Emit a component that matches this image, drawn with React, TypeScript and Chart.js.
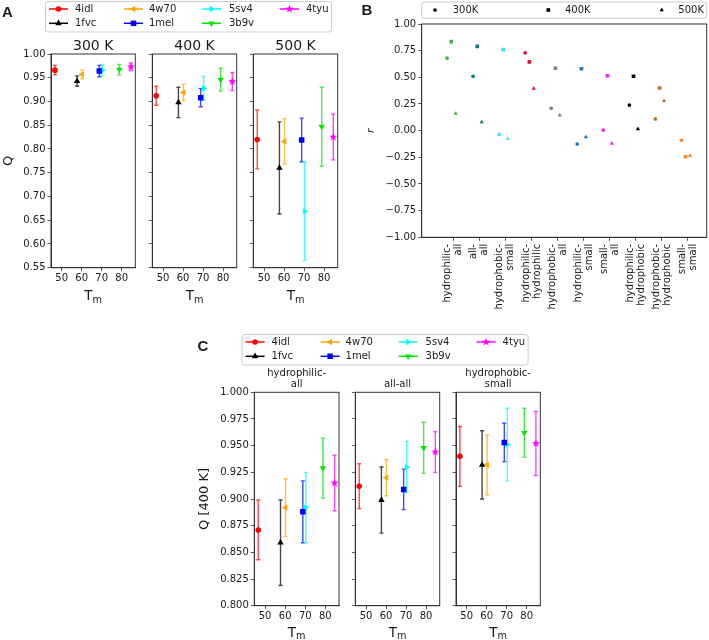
import React, { useEffect, useRef } from 'react';
import { Chart, registerables } from 'chart.js';

Chart.register(...registerables);

const W = 709;
const H = 640;
const FONT = "'DejaVu Sans', 'Liberation Sans', sans-serif";
const BOLD_FONT = "bold 15px 'Liberation Sans', Arial, sans-serif";
const TEXT = '#1a1a1a';
const SPINE = '#333333';

// ---------------- Panels A and C data ----------------
const proteins = ['4idl', '1fvc', '4w70', '1mel', '5sv4', '3b9v', '4tyu'];
const proteinColors = ['#ff0000', '#000000', '#ffa500', '#0000ff', '#00ffff', '#00e600', '#ff00ff'];
const proteinMarkers = ['circle', 'triUp', 'triLeft', 'square', 'triRight', 'triDown', 'star'];
const meltingTemps = [46.6, 57.7, 60.2, 68.8, 70.3, 78.8, 84.6];
const tmTicks = [50, 60, 70, 80];

const temperatureTitles = ['300 K', '400 K', '500 K'];
const q300 = [0.966, 0.943, 0.957, 0.964, 0.966, 0.967, 0.973];
const q300Err = [0.010, 0.011, 0.009, 0.012, 0.012, 0.011, 0.008];
const q400 = [0.912, 0.898, 0.919, 0.908, 0.928, 0.946, 0.942];
const q400Err = [0.020, 0.032, 0.017, 0.019, 0.025, 0.024, 0.019];
const q500 = [0.820, 0.760, 0.816, 0.819, 0.669, 0.847, 0.825];
const q500Err = [0.062, 0.097, 0.048, 0.046, 0.104, 0.083, 0.048];
const qTicksA = [0.55, 0.6, 0.65, 0.7, 0.75, 0.8, 0.85, 0.9, 0.95, 1.0];

const contactTitlesC = [['hydrophilic-', 'all'], ['all-all'], ['hydrophobic-', 'small']];
const qHydrophilicAll = [0.871, 0.859, 0.892, 0.888, 0.892, 0.929, 0.915];
const qHydrophilicAllErr = [0.028, 0.040, 0.027, 0.029, 0.033, 0.028, 0.026];
const qAllAll = [0.912, 0.899, 0.920, 0.909, 0.930, 0.948, 0.944];
const qAllAllErr = [0.021, 0.031, 0.017, 0.019, 0.024, 0.024, 0.019];
const qHydrophobicSmall = [0.940, 0.932, 0.932, 0.953, 0.951, 0.962, 0.952];
const qHydrophobicSmallErr = [0.028, 0.032, 0.028, 0.018, 0.034, 0.023, 0.030];
const qTicksC = [0.8, 0.825, 0.85, 0.875, 0.9, 0.925, 0.95, 0.975, 1.0];

// ---------------- Panel B data ----------------
const contactTypes = [
  ['hydrophilic-', 'all'],
  ['all-', 'all'],
  ['hydrophobic-', 'small'],
  ['hydrophilic-', 'hydrophilic'],
  ['hydrophobic-', 'all'],
  ['hydrophilic-', 'small'],
  ['small-', 'all'],
  ['hydrophilic-', 'hydrophobic'],
  ['hydrophobic-', 'hydrophobic'],
  ['small-', 'small'],
];
const contactColors = ['#4aac4a', '#137878', '#40e0e6', '#dc143c', '#808080', '#1f77b4', '#e22fe2', '#000000', '#a8733a', '#f28d3c'];
const bTempLabels = ['300K', '400K', '500K'];
const bTempMarkers = ['circle', 'square', 'triUp'];
const r300 = [0.68, 0.51, -0.035, 0.73, 0.21, -0.125, 0.005, 0.24, 0.11, -0.09];
const r400 = [0.835, 0.79, 0.76, 0.645, 0.585, 0.58, 0.515, 0.51, 0.40, -0.245];
const r500 = [0.16, 0.08, -0.075, 0.395, 0.145, -0.06, -0.12, 0.015, 0.28, -0.235];
const rTicks = [-1, -0.75, -0.5, -0.25, 0, 0.25, 0.5, 0.75, 1];

// dodge offsets of the three temperatures within each category (layout, not data)
const B_DODGE = [-0.24, -0.08, 0.09];

// ---------------- helpers ----------------
function markerSize(kind: string, s: number) {
  if (kind === 'circle') return 2.8 * s;
  if (kind === 'square') return 3.9 * s;
  if (kind === 'star') return 4.3 * s;
  return 3.7 * s;
}
const triRot: Record<string, number> = { triUp: 0, triRight: 90, triDown: 180, triLeft: -90 };

function starPath(ctx: CanvasRenderingContext2D, cx: number, cy: number, R: number) {
  const r = R * 0.42;
  ctx.beginPath();
  for (let k = 0; k < 10; k++) {
    const a = -Math.PI / 2 + (k * Math.PI) / 5;
    const rr = k % 2 === 0 ? R : r;
    ctx.lineTo(cx + rr * Math.cos(a), cy + rr * Math.sin(a));
  }
  ctx.closePath();
}

function makeStarImage(color: string, R: number) {
  const c = document.createElement('canvas');
  const s = Math.ceil(R * 2 + 2);
  c.width = s;
  c.height = s;
  const g = c.getContext('2d')!;
  starPath(g, s / 2, s / 2, R);
  g.fillStyle = color;
  g.fill();
  return c;
}

function drawMarker(ctx: CanvasRenderingContext2D, kind: string, x: number, y: number, color: string, s = 1) {
  ctx.save();
  ctx.fillStyle = color;
  const R = markerSize(kind, s);
  if (kind === 'circle') {
    ctx.beginPath();
    ctx.arc(x, y, R, 0, Math.PI * 2);
  } else if (kind === 'square') {
    const h = R * Math.SQRT1_2;
    ctx.beginPath();
    ctx.rect(x - h, y - h, 2 * h, 2 * h);
  } else if (kind === 'star') {
    starPath(ctx, x, y, R);
  } else {
    const rot = (triRot[kind] * Math.PI) / 180;
    ctx.beginPath();
    for (let k = 0; k < 3; k++) {
      const a = rot + (k * 2 * Math.PI) / 3;
      ctx.lineTo(x + Math.sin(a) * R, y - Math.cos(a) * R);
    }
    ctx.closePath();
  }
  ctx.fill();
  ctx.restore();
}

function pointStyleFor(kind: string, color: string, s = 1) {
  const R = markerSize(kind, s);
  if (kind === 'circle') return { pointStyle: 'circle', pointRadius: R, pointRotation: 0 };
  if (kind === 'square') return { pointStyle: 'rect', pointRadius: R, pointRotation: 0 };
  if (kind === 'star') return { pointStyle: makeStarImage(color, R), pointRadius: R, pointRotation: 0 };
  return { pointStyle: 'triangle', pointRadius: R, pointRotation: triRot[kind] };
}

function roundRect(ctx: CanvasRenderingContext2D, x: number, y: number, w: number, h: number, r: number) {
  ctx.beginPath();
  ctx.moveTo(x + r, y);
  ctx.lineTo(x + w - r, y);
  ctx.arcTo(x + w, y, x + w, y + r, r);
  ctx.lineTo(x + w, y + h - r);
  ctx.arcTo(x + w, y + h, x + w - r, y + h, r);
  ctx.lineTo(x + r, y + h);
  ctx.arcTo(x, y + h, x, y + h - r, r);
  ctx.lineTo(x, y + r);
  ctx.arcTo(x, y, x + r, y, r);
  ctx.closePath();
}

function drawLegendBox(ctx: CanvasRenderingContext2D, x: number, y: number, w: number, h: number) {
  roundRect(ctx, x, y, w, h, 2.5);
  ctx.fillStyle = 'rgba(255,255,255,0.8)';
  ctx.fill();
  ctx.strokeStyle = '#cccccc';
  ctx.lineWidth = 1;
  ctx.stroke();
}

function drawProteinLegend(ctx: CanvasRenderingContext2D, ox: number, oy: number) {
  ctx.save();
  drawLegendBox(ctx, ox + 45.5, oy + 1.5, 286, 30.5);
  const colLine = [49, 124, 202, 280];
  const colText = [75, 149, 229, 306];
  const rowY = [9, 23.3];
  ctx.font = `10px ${FONT}`;
  ctx.textAlign = 'left';
  ctx.textBaseline = 'middle';
  proteins.forEach((name, i) => {
    const c = Math.floor(i / 2);
    const r = i % 2;
    const y = oy + rowY[r];
    const x0 = ox + colLine[c];
    ctx.strokeStyle = proteinColors[i];
    ctx.lineWidth = 1.5;
    ctx.beginPath();
    ctx.moveTo(x0, y);
    ctx.lineTo(x0 + 19, y);
    ctx.stroke();
    drawMarker(ctx, proteinMarkers[i], x0 + 9.5, y, proteinColors[i]);
    ctx.fillStyle = TEXT;
    ctx.fillText(name, ox + colText[c], y + 0.5);
  });
  ctx.restore();
}

function drawTm(ctx: CanvasRenderingContext2D, cx: number, baseline: number, size: number) {
  ctx.save();
  ctx.fillStyle = TEXT;
  ctx.textAlign = 'left';
  ctx.textBaseline = 'alphabetic';
  const sub = size * 0.72;
  ctx.font = `${size}px ${FONT}`;
  const wT = ctx.measureText('T').width;
  ctx.font = `${sub}px ${FONT}`;
  const wm = ctx.measureText('m').width;
  const x0 = cx - (wT + wm) / 2;
  ctx.font = `${size}px ${FONT}`;
  ctx.fillText('T', x0, baseline);
  ctx.font = `${sub}px ${FONT}`;
  ctx.fillText('m', x0 + wT, baseline + size * 0.22);
  ctx.restore();
}

function drawRotated(ctx: CanvasRenderingContext2D, text: string, cx: number, cy: number, font: string) {
  ctx.save();
  ctx.translate(cx, cy);
  ctx.rotate(-Math.PI / 2);
  ctx.font = font;
  ctx.fillStyle = TEXT;
  ctx.textAlign = 'center';
  ctx.textBaseline = 'middle';
  ctx.fillText(text, 0, 0);
  ctx.restore();
}

function drawText(ctx: CanvasRenderingContext2D, text: string, x: number, y: number, font: string, align: CanvasTextAlign = 'center', baseline: CanvasTextBaseline = 'middle') {
  ctx.save();
  ctx.font = font;
  ctx.fillStyle = TEXT;
  ctx.textAlign = align;
  ctx.textBaseline = baseline;
  ctx.fillText(text, x, y);
  ctx.restore();
}

const fmt = (v: number, d: number) => {
  const s = Math.abs(v).toFixed(d);
  return v < -1e-9 ? '\u2212' + s : s;
};

type ErrBar = { x: number; y: number; e: number; color: string };
type Spec = {
  area: [number, number, number, number];
  xMin: number;
  xMax: number;
  xTicks: number[];
  xLabels: boolean;
  yMin: number;
  yMax: number;
  yTicks: number[];
  yLabels: boolean;
  yDigits: number;
  datasets: any[];
  errors: ErrBar[];
  draw?: (chart: any, ctx: CanvasRenderingContext2D) => void;
};

function makeChart(canvas: HTMLCanvasElement, spec: Spec) {
  const [l, t, r, b] = spec.area;
  const yW = 52;
  const xH = 30;
  const tickFont = { family: FONT, size: 10 };
  return new Chart(canvas, {
    type: 'scatter',
    data: { datasets: spec.datasets },
    options: {
      responsive: false,
      animation: false,
      events: [],
      layout: { autoPadding: false, padding: { left: l - yW, top: t, right: W - r, bottom: H - b - xH } },
      plugins: { legend: { display: false }, tooltip: { enabled: false }, title: { display: false } },
      scales: {
        x: {
          type: 'linear',
          position: 'bottom',
          min: spec.xMin,
          max: spec.xMax,
          afterBuildTicks: (s: any) => {
            s.ticks = spec.xTicks.map((v) => ({ value: v }));
          },
          afterFit: (s: any) => {
            s.height = xH;
          },
          ticks: {
            display: spec.xLabels,
            autoSkip: false,
            maxRotation: 0,
            minRotation: 0,
            padding: 1,
            color: TEXT,
            font: tickFont,
            callback: (v: any) => String(v),
          },
          grid: { display: true, drawOnChartArea: false, drawTicks: true, tickLength: 3.5, color: SPINE, tickWidth: 0.8 },
          border: { display: true, color: SPINE, width: 1 },
        },
        y: {
          type: 'linear',
          position: 'left',
          min: spec.yMin,
          max: spec.yMax,
          afterBuildTicks: (s: any) => {
            s.ticks = spec.yTicks.map((v) => ({ value: v }));
          },
          afterFit: (s: any) => {
            s.width = yW;
          },
          ticks: {
            display: spec.yLabels,
            autoSkip: false,
            padding: 2,
            color: TEXT,
            font: tickFont,
            callback: (v: any) => fmt(Number(v), spec.yDigits),
          },
          grid: { display: true, drawOnChartArea: false, drawTicks: true, tickLength: 3.5, color: SPINE, tickWidth: 0.8 },
          border: { display: true, color: SPINE, width: 1 },
        },
      },
    } as any,
    plugins: [
      {
        id: 'errorbars',
        beforeDatasetsDraw(chart: any) {
          const ctx = chart.ctx as CanvasRenderingContext2D;
          const xs = chart.scales.x;
          const ys = chart.scales.y;
          ctx.save();
          ctx.lineWidth = 1.4;
          ctx.globalAlpha = 0.72;
          for (const e of spec.errors) {
            const px = xs.getPixelForValue(e.x);
            const p1 = ys.getPixelForValue(e.y - e.e);
            const p2 = ys.getPixelForValue(e.y + e.e);
            ctx.strokeStyle = e.color;
            ctx.beginPath();
            ctx.moveTo(px, p1);
            ctx.lineTo(px, p2);
            ctx.moveTo(px - 2, p1);
            ctx.lineTo(px + 2, p1);
            ctx.moveTo(px - 2, p2);
            ctx.lineTo(px + 2, p2);
            ctx.stroke();
          }
          ctx.restore();
        },
        afterDraw(chart: any) {
          const ctx = chart.ctx as CanvasRenderingContext2D;
          const a = chart.chartArea;
          ctx.save();
          ctx.strokeStyle = SPINE;
          ctx.lineWidth = 1;
          ctx.strokeRect(a.left, a.top, a.right - a.left, a.bottom - a.top);
          ctx.restore();
          if (spec.draw) spec.draw(chart, ctx);
        },
      },
    ],
  });
}

function proteinDatasets(values: number[]) {
  return proteins.map((name, i) => ({
    label: name,
    data: [{ x: meltingTemps[i], y: values[i] }],
    ...pointStyleFor(proteinMarkers[i], proteinColors[i]),
    pointBackgroundColor: proteinColors[i],
    pointBorderColor: proteinColors[i],
    pointBorderWidth: 0,
    showLine: false,
  }));
}

function proteinErrors(values: number[], errs: number[]): ErrBar[] {
  return proteins.map((_, i) => ({ x: meltingTemps[i], y: values[i], e: errs[i], color: proteinColors[i] }));
}

function buildSpecs(): Spec[] {
  const specs: Spec[] = [];
  const X_MIN = 44.65;
  const X_MAX = 86.8;

  // Panel A
  const aAreas: [number, number, number, number][] = [
    [51, 54, 135.3, 267.7],
    [152.3, 54, 236.7, 267.7],
    [253.3, 54, 337.7, 267.7],
  ];
  const aVals = [q300, q400, q500];
  const aErrs = [q300Err, q400Err, q500Err];
  aAreas.forEach((area, k) => {
    specs.push({
      area,
      xMin: X_MIN,
      xMax: X_MAX,
      xTicks: tmTicks,
      xLabels: true,
      yMin: 0.55,
      yMax: 1.0,
      yTicks: qTicksA,
      yLabels: k === 0,
      yDigits: 2,
      datasets: proteinDatasets(aVals[k]),
      errors: proteinErrors(aVals[k], aErrs[k]),
      draw: (chart, ctx) => {
        const ca = chart.chartArea;
        const cx = (ca.left + ca.right) / 2;
        drawText(ctx, temperatureTitles[k], cx, 50.2, `14px ${FONT}`, 'center', 'alphabetic');
        drawTm(ctx, cx, 300, 13.5);
        if (k === 0) {
          drawRotated(ctx, 'Q', 9, (ca.top + ca.bottom) / 2, `13px ${FONT}`);
          drawText(ctx, 'A', 2, 16.7, BOLD_FONT, 'left', 'alphabetic');
          drawProteinLegend(ctx, 0, 0);
        }
      },
    });
  });

  // Panel B
  const rVals = [r300, r400, r500];
  specs.push({
    area: [421.7, 24, 706.7, 237.3],
    xMin: -1.214,
    xMax: 9.731,
    xTicks: contactTypes.map((_, i) => i),
    xLabels: false,
    yMin: -1,
    yMax: 1,
    yTicks: rTicks,
    yLabels: true,
    yDigits: 2,
    datasets: bTempLabels.map((lab, k) => ({
      label: lab,
      data: contactTypes.map((_, i) => ({ x: i + B_DODGE[k], y: rVals[k][i] })),
      ...pointStyleFor(bTempMarkers[k], '#000', 0.66),
      pointBackgroundColor: contactColors,
      pointBorderColor: contactColors,
      pointBorderWidth: 0,
      showLine: false,
    })),
    errors: [],
    draw: (chart, ctx) => {
      const ca = chart.chartArea;
      const xs = chart.scales.x;
      ctx.save();
      ctx.font = `10px ${FONT}`;
      ctx.fillStyle = TEXT;
      ctx.textAlign = 'right';
      ctx.textBaseline = 'middle';
      contactTypes.forEach((lines, i) => {
        const px = xs.getPixelForValue(i);
        ctx.save();
        ctx.translate(px, ca.bottom + 6.5);
        ctx.rotate(-Math.PI / 2);
        lines.forEach((s, j) => ctx.fillText(s, 0, (j - (lines.length - 1) / 2) * 11));
        ctx.restore();
      });
      ctx.restore();
      drawRotated(ctx, 'r', 371, (ca.top + ca.bottom) / 2, `italic 11px ${FONT}`);
      drawText(ctx, 'B', 361.5, 15.3, BOLD_FONT, 'left', 'alphabetic');
      // legend
      ctx.save();
      drawLegendBox(ctx, 421.7, 2, 285, 16.3);
      const mx = [435, 548.3, 661.7];
      const tx = [452.7, 565, 678.3];
      bTempLabels.forEach((lab, k) => {
        drawMarker(ctx, bTempMarkers[k], mx[k], 10, '#000', 0.66);
        drawText(ctx, lab, tx[k], 10.3, `10px ${FONT}`, 'left', 'middle');
      });
      ctx.restore();
    },
  });

  // Panel C
  const cAreas: [number, number, number, number][] = [
    [254.3, 392.3, 339, 605.7],
    [355.3, 392.3, 439.7, 605.7],
    [456, 392.3, 540.3, 605.7],
  ];
  const cVals = [qHydrophilicAll, qAllAll, qHydrophobicSmall];
  const cErrs = [qHydrophilicAllErr, qAllAllErr, qHydrophobicSmallErr];
  cAreas.forEach((area, k) => {
    specs.push({
      area,
      xMin: X_MIN,
      xMax: X_MAX,
      xTicks: tmTicks,
      xLabels: true,
      yMin: 0.8,
      yMax: 1.0,
      yTicks: qTicksC,
      yLabels: k === 0,
      yDigits: 3,
      datasets: proteinDatasets(cVals[k]),
      errors: proteinErrors(cVals[k], cErrs[k]),
      draw: (chart, ctx) => {
        const ca = chart.chartArea;
        const cx = (ca.left + ca.right) / 2;
        const lines = contactTitlesC[k];
        lines.forEach((s, j) => {
          const y = 384.3 - (lines.length - 1 - j) * 10.6;
          drawText(ctx, s, cx, y, `10px ${FONT}`, 'center', 'middle');
        });
        drawTm(ctx, cx, 636.5, 13.5);
        if (k === 0) {
          drawRotated(ctx, 'Q [400 K]', 205, (ca.top + ca.bottom) / 2, `13px ${FONT}`);
          drawText(ctx, 'C', 197.5, 350.7, BOLD_FONT, 'left', 'alphabetic');
          drawProteinLegend(ctx, 196.6, 333);
        }
      },
    });
  });

  return specs;
}

export default function App() {
  const refs = useRef<(HTMLCanvasElement | null)[]>([]);
  useEffect(() => {
    const specs = buildSpecs();
    const charts = specs.map((s, i) => makeChart(refs.current[i]!, s));
    return () => {
      charts.forEach((c) => c.destroy());
    };
  }, []);
  return (
    <div style={{ position: 'absolute', left: 0, top: 0, width: W, height: H, background: '#ffffff', overflow: 'hidden' }}>
      {Array.from({ length: 7 }).map((_, i) => (
        <canvas
          key={i}
          ref={(el) => {
            refs.current[i] = el;
          }}
          width={W}
          height={H}
          style={{ position: 'absolute', left: 0, top: 0, width: W, height: H }}
        />
      ))}
    </div>
  );
}
